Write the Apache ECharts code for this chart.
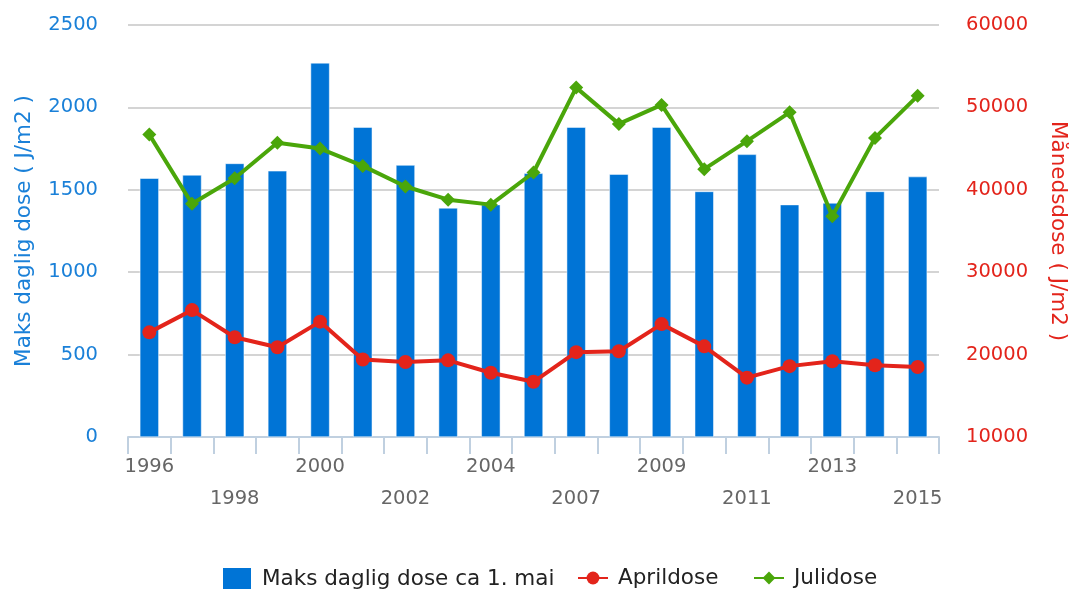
<!DOCTYPE html>
<html>
<head>
<meta charset="utf-8">
<script src="https://cdn.jsdelivr.net/npm/echarts@6/dist/echarts.min.js"></script>
<style>
  html, body { margin: 0; padding: 0; background: #fff; }
  #chart { width: 1069px; height: 589px; }
</style>
</head>
<body>
<div id="chart"></div>
<script>
const years = ['1996', '1997', '1998', '1999', '2000', '2001', '2002', '2003', '2004', '2005',
  '2007', '2008', '2009', '2010', '2011', '2012', '2013', '2014', '2015']
const maksDaglig = [1570, 1590, 1660, 1615, 2270, 1880, 1650, 1390, 1410, 1600,
  1880, 1595, 1880, 1490, 1715, 1410, 1420, 1490, 1580]
const aprilDose = [22700, 25400, 22100, 20900, 24000, 19400, 19100, 19300, 17800, 16700,
  20300, 20400, 23700, 21000, 17200, 18600, 19200, 18700, 18500]
const juliDose = [46700, 38300, 41400, 45700, 45000, 42900, 40400, 38800, 38200, 42100,
  52400, 48000, 50300, 42500, 45900, 49400, 36800, 46300, 51400]

const font = 'DejaVu Sans, Verdana, sans-serif'
const blue = '#0074d6'
const red = '#e3241b'
const green = '#4aa60a'

const legendText = { fontFamily: font, fontSize: 21.5, color: '#222', padding: [0, 0, 0, 5] }

const chart = echarts.init(document.getElementById('chart'))

chart.setOption({
  backgroundColor: '#fff',
  animation: false,
  grid: { left: 128, right: 130, top: 25, bottom: 152, containLabel: false, outerBoundsMode: 'none' },
  legend: [
    {
      left: 221, top: 566, padding: 0,
      itemWidth: 30, itemHeight: 24,
      symbolKeepAspect: false,
      textStyle: legendText,
      data: [{ name: 'Maks daglig dose ca 1. mai', icon: 'rect' }]
    },
    {
      left: 577, top: 567, padding: 0,
      itemWidth: 30, itemHeight: 16,
      textStyle: legendText,
      data: ['Aprildose']
    },
    {
      left: 753, top: 567, padding: 0,
      itemWidth: 30, itemHeight: 16,
      textStyle: legendText,
      data: ['Julidose']
    }
  ],
  xAxis: {
    type: 'category',
    data: years,
    axisLine: { lineStyle: { color: '#c0d0e0', width: 2 } },
    axisTick: { show: true, interval: 0, length: 17, lineStyle: { color: '#c0d0e0', width: 2 } },
    axisLabel: {
      interval: 1,
      margin: 14,
      color: '#666',
      fontFamily: font,
      fontSize: 19.5,
      lineHeight: 32,
      formatter: (val, idx) => (idx % 4 === 2 ? '\n' + val : val)
    }
  },
  yAxis: [
    {
      type: 'value',
      min: 0,
      max: 2500,
      interval: 500,
      name: 'Maks daglig dose ( J/m2 )',
      nameLocation: 'middle',
      nameGap: 93,
      nameTextStyle: { color: '#1a80d8', fontFamily: font, fontSize: 21.5 },
      axisLine: { show: false },
      axisTick: { show: false },
      axisLabel: { color: '#1a80d8', fontFamily: font, fontSize: 19.5, margin: 30, formatter: v => String(v) },
      splitLine: { lineStyle: { color: '#c6c6c6', width: 1.5 } }
    },
    {
      type: 'value',
      min: 10000,
      max: 60000,
      interval: 10000,
      position: 'right',
      name: 'Månedsdose ( J/m2 )',
      nameLocation: 'middle',
      nameRotate: -90,
      nameGap: 108,
      nameTextStyle: { color: red, fontFamily: font, fontSize: 21.5 },
      axisLine: { show: false },
      axisTick: { show: false },
      axisLabel: { color: red, fontFamily: font, fontSize: 19.5, margin: 27, formatter: v => String(v) },
      splitLine: { show: false }
    }
  ],
  series: [
    {
      name: 'Maks daglig dose ca 1. mai',
      type: 'bar',
      data: maksDaglig,
      barWidth: 19,
      itemStyle: { color: blue, borderColor: '#ffffff', borderWidth: 0.5 }
    },
    {
      name: 'Aprildose',
      type: 'line',
      yAxisIndex: 1,
      data: aprilDose,
      symbol: 'circle',
      symbolSize: 14,
      lineStyle: { color: red, width: 4 },
      itemStyle: { color: red }
    },
    {
      name: 'Julidose',
      type: 'line',
      yAxisIndex: 1,
      data: juliDose,
      symbol: 'diamond',
      symbolSize: 14,
      lineStyle: { color: green, width: 4 },
      itemStyle: { color: green }
    }
  ]
})
</script>
</body>
</html>
